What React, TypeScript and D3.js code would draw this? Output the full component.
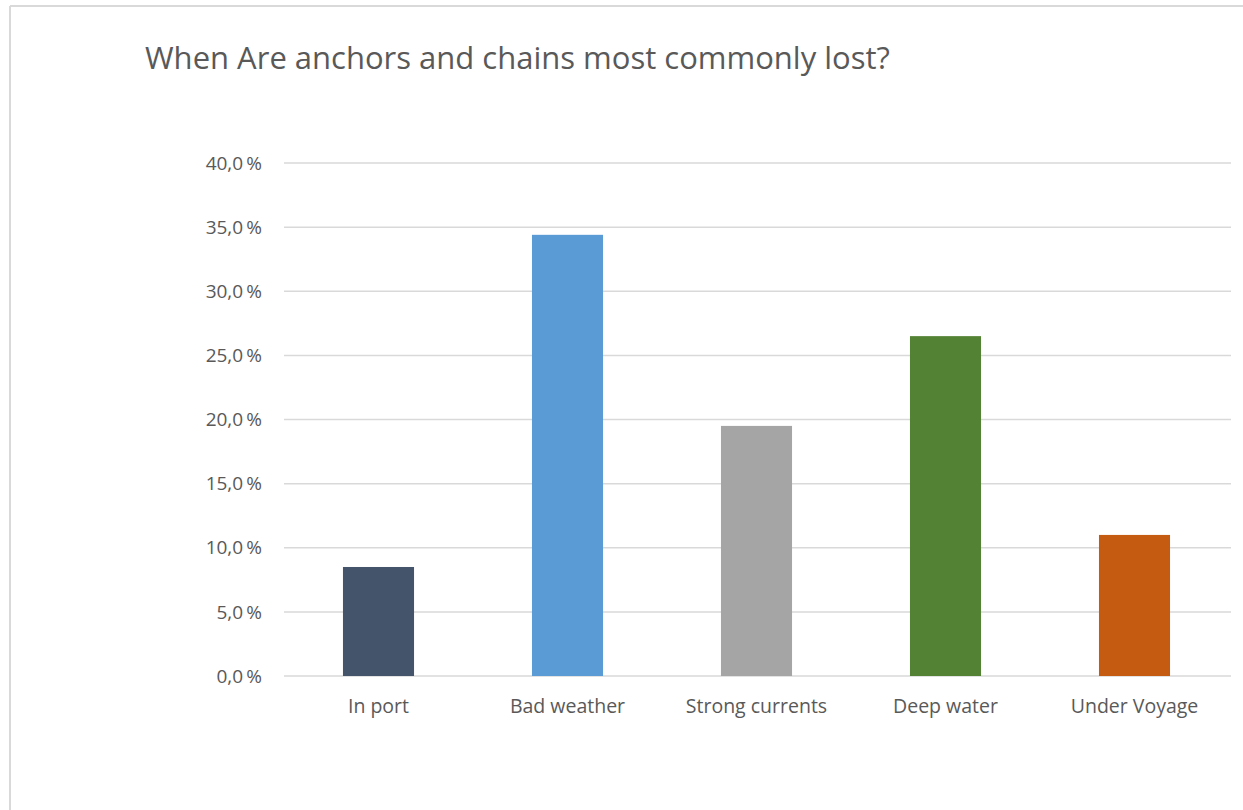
import React from "react";
import * as d3 from "d3";

const categories = ["In port", "Bad weather", "Strong currents", "Deep water", "Under Voyage"];
const values = [8.5, 34.4, 19.5, 26.5, 11.0];
const barColors = ["#44546A", "#5B9BD5", "#A5A5A5", "#548235", "#C55A11"];
const yTicks = [0, 5, 10, 15, 20, 25, 30, 35, 40];
const title = "When Are anchors and chains most commonly lost?";

const W = 1243;
const H = 810;
const FONT = "'Open Sans', Lato, sans-serif";

export default function App() {
  const y = d3.scaleLinear().domain([0, 40]).range([676, 163]);
  const x = d3
    .scaleBand<string>()
    .domain(categories)
    .range([284, 1229])
    .paddingInner(0.624)
    .paddingOuter(0.312);
  const fmt = (v: number) => d3.format(".1f")(v).replace(".", ",") + "\u2009%";

  return (
    <svg
      width={W}
      height={H}
      style={{ position: "absolute", left: 0, top: 0, background: "#fff" }}
    >
      <rect x={0} y={0} width={W} height={H} fill="#fff" />
      <line x1={10} y1={6} x2={W} y2={6} stroke="#D9D9D9" strokeWidth={2} />
      <line x1={10} y1={6} x2={10} y2={H} stroke="#D9D9D9" strokeWidth={2} />
      <text x={145} y={69} fontFamily={FONT} fontSize={31} fill="#595959">
        {title}
      </text>
      {yTicks.map((t) => (
        <g key={t}>
          <line
            x1={284}
            x2={1231}
            y1={y(t)}
            y2={y(t)}
            stroke="#D9D9D9"
            strokeWidth={1.5}
          />
          <text
            x={262}
            y={y(t)}
            dy="0.35em"
            textAnchor="end"
            fontFamily={FONT}
            fontSize={19}
            fill="#595959"
          >
            {fmt(t)}
          </text>
        </g>
      ))}
      {categories.map((c, i) => (
        <g key={c}>
          <rect
            x={x(c)}
            y={y(values[i])}
            width={x.bandwidth()}
            height={y(0) - y(values[i])}
            fill={barColors[i]}
          />
          <text
            x={(x(c) as number) + x.bandwidth() / 2}
            y={713}
            textAnchor="middle"
            fontFamily={FONT}
            fontSize={19.5}
            fill="#595959"
          >
            {c}
          </text>
        </g>
      ))}
    </svg>
  );
}
